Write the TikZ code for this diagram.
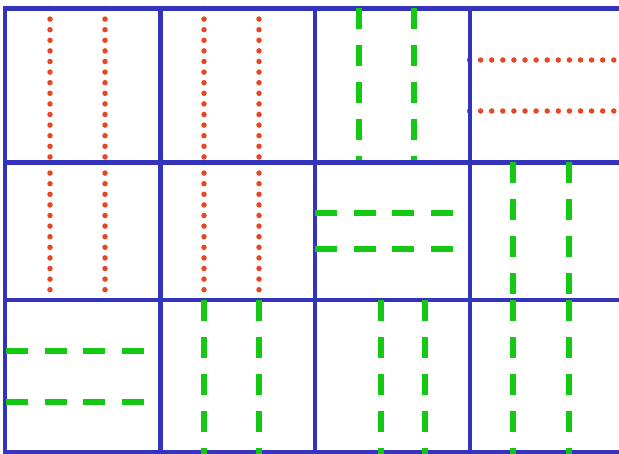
\documentclass[tikz,border=0pt]{standalone}
\definecolor{gridblue}{RGB}{51,51,190}
\definecolor{dotred}{RGB}{232,70,35}
\definecolor{dashgreen}{RGB}{20,200,20}
\tikzset{
  gridline/.style={draw=gridblue,line width=4.5pt},
  dotv/.style={draw=dotred,line width=5.5pt,line cap=round,dash pattern=on 0pt off 10.6pt},
  doth/.style={draw=dotred,line width=5.5pt,line cap=round,dash pattern=on 0pt off 11.1pt},
  dashv/.style={draw=dashgreen,line width=5.5pt,dash pattern=on 21pt off 16pt},
  dashh/.style={draw=dashgreen,line width=5.5pt,dash pattern=on 22pt off 16.7pt},
}
\begin{document}
\begin{tikzpicture}[x=1pt,y=-1pt]
\useasboundingbox (0,0) rectangle (619,454);
\fill[white] (0,0) rectangle (619,454);
% red dotted lines (under the grid)
\foreach \x in {50,105,204,259}{
  \draw[dotv] (\x,8.5) -- (\x,160);
  \draw[dotv] (\x,162.5) -- (\x,298);
}
\foreach \y in {60,111}{
  \draw[doth] (469.5,\y) -- (622,\y);
}
% blue grid
\foreach \y in {8.5,162.5,300,452}{
  \draw[gridline] (3,\y) -- (625,\y);
}
\foreach \x in {5,160.5,315,470}{
  \draw[gridline] (\x,6.5) -- (\x,456);
}
% green dashed lines
\foreach \x in {359,414}{
  \draw[dashv] (\x,8.5) -- (\x,160.5);
}
\foreach \x in {513,569}{
  \draw[dashv] (\x,162.5) -- (\x,300);
  \draw[dashv] (\x,300) -- (\x,454);
}
\foreach \x in {204,259,381,425}{
  \draw[dashv] (\x,300) -- (\x,454);
}
\foreach \y in {213,249}{
  \draw[dashh] (315,\y) -- (454.5,\y);
}
\foreach \y in {351,402}{
  \draw[dashh] (6,\y) -- (145.5,\y);
}
\end{tikzpicture}
\end{document}
